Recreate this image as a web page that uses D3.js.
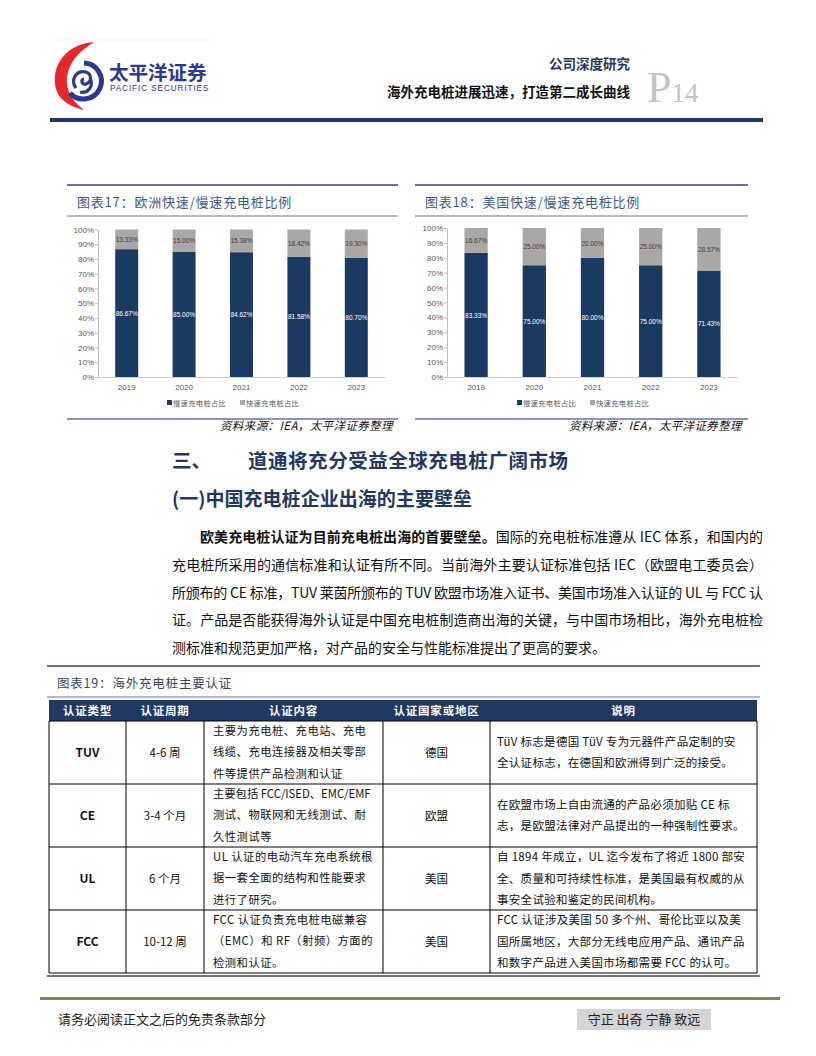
<!DOCTYPE html>
<html>
<head>
<meta charset="utf-8">
<script src="https://cdn.jsdelivr.net/npm/d3@7/dist/d3.min.js"></script>
<style>
  body { margin: 0; background: #fff; }
  svg text { font-family: "Noto Sans CJK SC", sans-serif; }
</style>
</head>
<body>
<div id="page"></div>
<script>
// chart data
const years = ['2019', '2020', '2021', '2022', '2023'];
const euSlow = [86.67, 85.00, 84.62, 81.58, 80.70];
const euFast = [13.33, 15.00, 15.38, 18.42, 19.30];
const usSlow = [83.33, 75.00, 80.00, 75.00, 71.43];
const usFast = [16.67, 25.00, 20.00, 25.00, 28.57];
const yTicks = [0, 10, 20, 30, 40, 50, 60, 70, 80, 90, 100];
const legendNames = ['慢速充电桩占比', '快速充电桩占比'];

// table data
const tableHead = ['认证类型', '认证周期', '认证内容', '认证国家或地区', '说明'];
const certTypes = ['TUV', 'CE', 'UL', 'FCC'];
const certPeriods = ['4-6 周', '3-4 个月', '6 个月', '10-12 周'];
const certContent = [
    ['主要为充电桩、充电站、充电', '线缆、充电连接器及相关零部', '件等提供产品检测和认证'],
    ['主要包括 FCC/ISED、EMC/EMF', '测试、物联网和无线测试、耐', '久性测试等'],
    ['UL 认证的电动汽车充电系统根', '据一套全面的结构和性能要求', '进行了研究。'],
    ['FCC 认证负责充电桩电磁兼容', '（EMC）和 RF（射频）方面的', '检测和认证。']
];
const certRegions = ['德国', '欧盟', '美国', '美国'];
const certNotes = [
    ['TüV 标志是德国 TüV 专为元器件产品定制的安', '全认证标志，在德国和欧洲得到广泛的接受。'],
    ['在欧盟市场上自由流通的产品必须加贴 CE 标', '志，是欧盟法律对产品提出的一种强制性要求。'],
    ['自 1894 年成立，UL 迄今发布了将近 1800 部安', '全、质量和可持续性标准，是美国最有权威的从', '事安全试验和鉴定的民间机构。'],
    ['FCC 认证涉及美国 50 多个州、哥伦比亚以及美', '国所属地区，大部分无线电应用产品、通讯产品', '和数字产品进入美国市场都需要 FCC 的认可。']
];

const width = 816;
const height = 1056;
const navy = '#1f3864';
const purple = '#6e6e9e';
const slowColor = '#1b3a61';
const fastColor = '#aba7a7';

const svg = d3.select('#page')
    .append('svg')
        .attr('width', width)
        .attr('height', height);

svg.append('rect').attr('width', width).attr('height', height).attr('fill', '#fff');

drawHeader();
drawChart({left: 67, right: 398, axisX: 98, axisEnd: 385, top: 229.5, bottom: 377, legendX: 167,
    title: '图表17：欧洲快速/慢速充电桩比例', slow: euSlow, fast: euFast, sourceX: 393});
drawChart({left: 415, right: 748, axisX: 447, axisEnd: 738, top: 228, bottom: 377, legendX: 517,
    title: '图表18：美国快速/慢速充电桩比例', slow: usSlow, fast: usFast, sourceX: 742});
drawText();
drawTable();
drawFooter();

function drawHeader() {
    // logo
    let logo = svg.append('g');
    logo.append('path')
        .attr('d', 'M 94,42 C 62,44 48,72 58,94 C 64,104 76,108 84,110 C 70,100 64,86 68,72 C 72,58 82,50 94,42 Z')
        .attr('fill', '#e8262b');
    logo.append('path')
        .attr('d', 'M 84,63 A 18 18 0 1 1 70,93')
        .attr('fill', 'none')
        .attr('stroke', '#2b3990')
        .attr('stroke-width', 5);
    logo.append('path')
        .attr('d', 'M 76,88 C 70,80 76,70 86,72 C 92,74 92,82 86,84 C 82,85 80,80 84,79 M 90,78 C 94,86 88,94 80,92')
        .attr('fill', 'none')
        .attr('stroke', '#2b3990')
        .attr('stroke-width', 3.2);
    svg.append('line')
        .attr('x1', 52).attr('x2', 210).attr('y1', 40).attr('y2', 40)
        .attr('stroke', '#f1f1f1');

    svg.append('text')
        .text('太平洋证券')
        .attr('x', 109).attr('y', 80)
        .attr('font-size', 19.5)
        .attr('font-weight', 'bold')
        .attr('fill', '#2b3990');
    svg.append('text')
        .text('PACIFIC SECURITIES')
        .attr('x', 110).attr('y', 91)
        .attr('font-size', 8.2)
        .attr('letter-spacing', 0.9)
        .attr('fill', '#2b3990')
        .style('font-family', 'Liberation Sans, sans-serif');

    svg.append('text')
        .text('公司深度研究')
        .attr('x', 630).attr('y', 69)
        .attr('text-anchor', 'end')
        .attr('font-size', 13.5)
        .attr('font-weight', 'bold')
        .attr('fill', navy);
    svg.append('text')
        .text('海外充电桩进展迅速，打造第二成长曲线')
        .attr('x', 630).attr('y', 97)
        .attr('text-anchor', 'end')
        .attr('font-size', 13.5)
        .attr('font-weight', 'bold')
        .attr('fill', '#111');
    let p = svg.append('text')
        .attr('x', 647).attr('y', 102)
        .attr('fill', '#c4c4c4')
        .style('font-family', 'Liberation Serif, serif');
    p.append('tspan').text('P').attr('font-size', 44);
    p.append('tspan').text('14').attr('font-size', 27);

    svg.append('rect')
        .attr('x', 50).attr('y', 118)
        .attr('width', 713).attr('height', 4)
        .attr('fill', navy);
}

function drawChart(opt) {
    let g = svg.append('g');

    g.append('line')
        .attr('x1', opt.left).attr('x2', opt.right).attr('y1', 185).attr('y2', 185)
        .attr('stroke', purple).attr('stroke-width', 2);
    g.append('text')
        .text(opt.title)
        .attr('x', opt.left + 10).attr('y', 207)
        .attr('font-size', 13)
        .attr('letter-spacing', 0.8)
        .attr('fill', '#3b5a8c');
    g.append('line')
        .attr('x1', opt.left).attr('x2', opt.right).attr('y1', 216).attr('y2', 216)
        .attr('stroke', purple).attr('stroke-width', 1);
    g.append('line')
        .attr('x1', opt.left).attr('x2', opt.right).attr('y1', 419).attr('y2', 419)
        .attr('stroke', purple).attr('stroke-width', 1.5);

    let x = d3.scaleBand()
        .domain(years)
        .range([opt.axisX, opt.axisEnd])
        .paddingInner(0.6)
        .paddingOuter(0.3);
    let y = d3.scaleLinear()
        .domain([0, 100])
        .range([opt.bottom, opt.top]);

    // y axis
    let yAxis = g.append('g')
        .attr('transform', `translate(${opt.axisX},0)`)
        .call(d3.axisLeft(y).tickValues(yTicks).tickFormat(d => d + '%').tickSize(3).tickSizeOuter(0));
    yAxis.select('.domain').attr('stroke', '#bfbfbf');
    yAxis.selectAll('.tick line').attr('stroke', '#bfbfbf');
    yAxis.selectAll('.tick text')
        .attr('font-size', 8)
        .attr('fill', '#595959')
        .attr('x', -4)
        .style('font-family', 'Liberation Sans, sans-serif');

    // x axis
    let xAxis = g.append('g')
        .attr('transform', `translate(0,${opt.bottom})`)
        .call(d3.axisBottom(x).tickSize(0).tickSizeOuter(0));
    xAxis.select('.domain').attr('stroke', '#d0d0d0');
    xAxis.selectAll('.tick text')
        .attr('font-size', 8)
        .attr('fill', '#595959')
        .attr('dy', 0)
        .attr('y', 13)
        .style('font-family', 'Liberation Sans, sans-serif');

    let rows = years.map((yr, i) => ({year: yr, slow: opt.slow[i], fast: opt.fast[i]}));

    g.selectAll('.slow-bar')
        .data(rows)
        .enter()
        .append('rect')
            .attr('class', 'slow-bar')
            .attr('x', d => x(d.year))
            .attr('y', d => y(d.slow))
            .attr('width', x.bandwidth())
            .attr('height', d => y(0) - y(d.slow))
            .attr('fill', slowColor);

    g.selectAll('.fast-bar')
        .data(rows)
        .enter()
        .append('rect')
            .attr('class', 'fast-bar')
            .attr('x', d => x(d.year))
            .attr('y', d => y(100))
            .attr('width', x.bandwidth())
            .attr('height', d => y(d.slow) - y(100))
            .attr('fill', fastColor);

    g.selectAll('.slow-label')
        .data(rows)
        .enter()
        .append('text')
            .attr('class', 'slow-label')
            .text(d => d.slow.toFixed(2) + '%')
            .attr('x', d => x(d.year) + x.bandwidth() / 2 - 11)
            .attr('y', d => y(d.slow / 2))
            .attr('dy', '0.35em')
            .attr('font-size', 7.5)
            .attr('textLength', 22)
            .attr('lengthAdjust', 'spacingAndGlyphs')
            .attr('fill', '#fff')
            .style('font-family', 'Liberation Sans, sans-serif');

    g.selectAll('.fast-label')
        .data(rows)
        .enter()
        .append('text')
            .attr('class', 'fast-label')
            .text(d => d.fast.toFixed(2) + '%')
            .attr('x', d => x(d.year) + x.bandwidth() / 2 - 11)
            .attr('y', d => y(d.slow + d.fast / 2))
            .attr('dy', '0.35em')
            .attr('font-size', 7.5)
            .attr('textLength', 22)
            .attr('lengthAdjust', 'spacingAndGlyphs')
            .attr('fill', '#404040')
            .style('font-family', 'Liberation Sans, sans-serif');

    // legend
    let colors = [slowColor, fastColor];
    legendNames.forEach((name, i) => {
        let lx = opt.legendX + i * 73;
        g.append('rect')
            .attr('x', lx).attr('y', 400)
            .attr('width', 5).attr('height', 5)
            .attr('fill', colors[i]);
        g.append('text')
            .text(name)
            .attr('x', lx + 6).attr('y', 405.5)
            .attr('font-size', 7.3)
            .attr('letter-spacing', 0.3)
            .attr('fill', '#595959');
    });

    g.append('text')
        .text('资料来源：IEA，太平洋证券整理')
        .attr('x', opt.sourceX).attr('y', 430)
        .attr('text-anchor', 'end')
        .attr('font-size', 11.5)
        .attr('font-style', 'italic')
        .attr('letter-spacing', 0.4)
        .attr('fill', '#111');
}

function drawText() {
    svg.append('text')
        .text('三、')
        .attr('x', 172).attr('y', 468)
        .attr('font-size', 19.5)
        .attr('font-weight', 'bold')
        .attr('fill', navy);
    svg.append('text')
        .text('道通将充分受益全球充电桩广阔市场')
        .attr('x', 248).attr('y', 468)
        .attr('font-size', 19.5)
        .attr('font-weight', 'bold')
        .attr('textLength', 320)
        .attr('fill', navy);
    svg.append('text')
        .text('(一)中国充电桩企业出海的主要壁垒')
        .attr('x', 172).attr('y', 506)
        .attr('font-size', 19)
        .attr('font-weight', 'bold')
        .attr('textLength', 300)
        .attr('fill', navy);

    let lines = [
        {x: 200, bold: '欧美充电桩认证为目前充电桩出海的首要壁垒。', text: '国际的充电桩标准遵从 IEC 体系，和国内的', full: true},
        {x: 172, bold: '', text: '充电桩所采用的通信标准和认证有所不同。当前海外主要认证标准包括 IEC（欧盟电工委员会）', full: true},
        {x: 172, bold: '', text: '所颁布的 CE 标准，TUV 莱茵所颁布的 TUV 欧盟市场准入证书、美国市场准入认证的 UL 与 FCC 认', full: true},
        {x: 172, bold: '', text: '证。产品是否能获得海外认证是中国充电桩制造商出海的关键，与中国市场相比，海外充电桩检', full: true},
        {x: 172, bold: '', text: '测标准和规范更加严格，对产品的安全与性能标准提出了更高的要求。', full: false}
    ];
    lines.forEach((l, i) => {
        let t = svg.append('text')
            .attr('x', l.x).attr('y', 542 + i * 27.8)
            .attr('font-size', 14)
            .attr('fill', '#111');
        if (l.bold) t.append('tspan').text(l.bold).attr('font-weight', 'bold');
        t.append('tspan').text(l.text);
        if (l.full) t.attr('textLength', 763 - l.x).attr('lengthAdjust', 'spacing');
    });
}

function drawTable() {
    let cols = [49, 126, 204, 383, 490, 757];
    let rowTops = [721, 784, 847, 910, 973];

    svg.append('line')
        .attr('x1', 47).attr('x2', 760).attr('y1', 666).attr('y2', 666)
        .attr('stroke', purple).attr('stroke-width', 2);
    svg.append('text')
        .text('图表19：海外充电桩主要认证')
        .attr('x', 57).attr('y', 688)
        .attr('font-size', 12.5)
        .attr('letter-spacing', 0.8)
        .attr('fill', '#3a4660');
    svg.append('line')
        .attr('x1', 47).attr('x2', 760).attr('y1', 697).attr('y2', 697)
        .attr('stroke', purple).attr('stroke-width', 1);

    svg.append('rect')
        .attr('x', cols[0]).attr('y', 700)
        .attr('width', cols[5] - cols[0]).attr('height', 21)
        .attr('fill', navy);
    tableHead.forEach((h, i) => {
        svg.append('text')
            .text(h)
            .attr('x', (cols[i] + cols[i + 1]) / 2).attr('y', 715)
            .attr('text-anchor', 'middle')
            .attr('font-size', 11.5)
            .attr('font-weight', 'bold')
            .attr('letter-spacing', 0.8)
            .attr('fill', '#fff');
    });

    // grid
    rowTops.forEach(r => {
        svg.append('line')
            .attr('x1', cols[0]).attr('x2', cols[5]).attr('y1', r).attr('y2', r)
            .attr('stroke', '#000').attr('stroke-width', 1);
    });
    cols.forEach(c => {
        svg.append('line')
            .attr('x1', c).attr('x2', c).attr('y1', 721).attr('y2', 973)
            .attr('stroke', '#000').attr('stroke-width', 1);
    });

    certTypes.forEach((type, i) => {
        let mid = (rowTops[i] + rowTops[i + 1]) / 2;
        svg.append('text')
            .text(type)
            .attr('x', (cols[0] + cols[1]) / 2).attr('y', mid)
            .attr('dy', '0.35em')
            .attr('text-anchor', 'middle')
            .attr('font-size', 12)
            .attr('font-weight', 'bold')
            .attr('fill', '#111');
        svg.append('text')
            .text(certPeriods[i])
            .attr('x', (cols[1] + cols[2]) / 2).attr('y', mid)
            .attr('dy', '0.35em')
            .attr('text-anchor', 'middle')
            .attr('font-size', 11.5)
            .attr('fill', '#111');
        svg.append('text')
            .text(certRegions[i])
            .attr('x', (cols[3] + cols[4]) / 2).attr('y', mid)
            .attr('dy', '0.35em')
            .attr('text-anchor', 'middle')
            .attr('font-size', 11.5)
            .attr('fill', '#111');
        certContent[i].forEach((line, j) => {
            svg.append('text')
                .text(line)
                .attr('x', cols[2] + 9).attr('y', mid + (j - (certContent[i].length - 1) / 2) * 21.5)
                .attr('dy', '0.35em')
                .attr('font-size', 11.3)
                .attr('letter-spacing', j === 0 && i === 1 ? 0 : 0.5)
                .attr('fill', '#111');
        });
        certNotes[i].forEach((line, j) => {
            svg.append('text')
                .text(line)
                .attr('x', cols[4] + 7).attr('y', mid + (j - (certNotes[i].length - 1) / 2) * 21.5)
                .attr('dy', '0.35em')
                .attr('font-size', 11.5)
                .attr('letter-spacing', 0.3)
                .attr('fill', '#111');
        });
    });

    svg.append('line')
        .attr('x1', 47).attr('x2', 760).attr('y1', 976).attr('y2', 976)
        .attr('stroke', purple).attr('stroke-width', 2);
}

function drawFooter() {
    svg.append('rect')
        .attr('x', 40).attr('y', 997)
        .attr('width', 740).attr('height', 3)
        .attr('fill', '#8c8150');
    svg.append('text')
        .text('请务必阅读正文之后的免责条款部分')
        .attr('x', 58).attr('y', 1024)
        .attr('font-size', 13)
        .attr('fill', '#222');
    svg.append('rect')
        .attr('x', 577).attr('y', 1009)
        .attr('width', 134).attr('height', 21)
        .attr('fill', '#d4d4d4');
    svg.append('text')
        .text('守正 出奇 宁静 致远')
        .attr('x', 644).attr('y', 1024)
        .attr('text-anchor', 'middle')
        .attr('font-size', 13)
        .attr('fill', '#222');
}
</script>
</body>
</html>
